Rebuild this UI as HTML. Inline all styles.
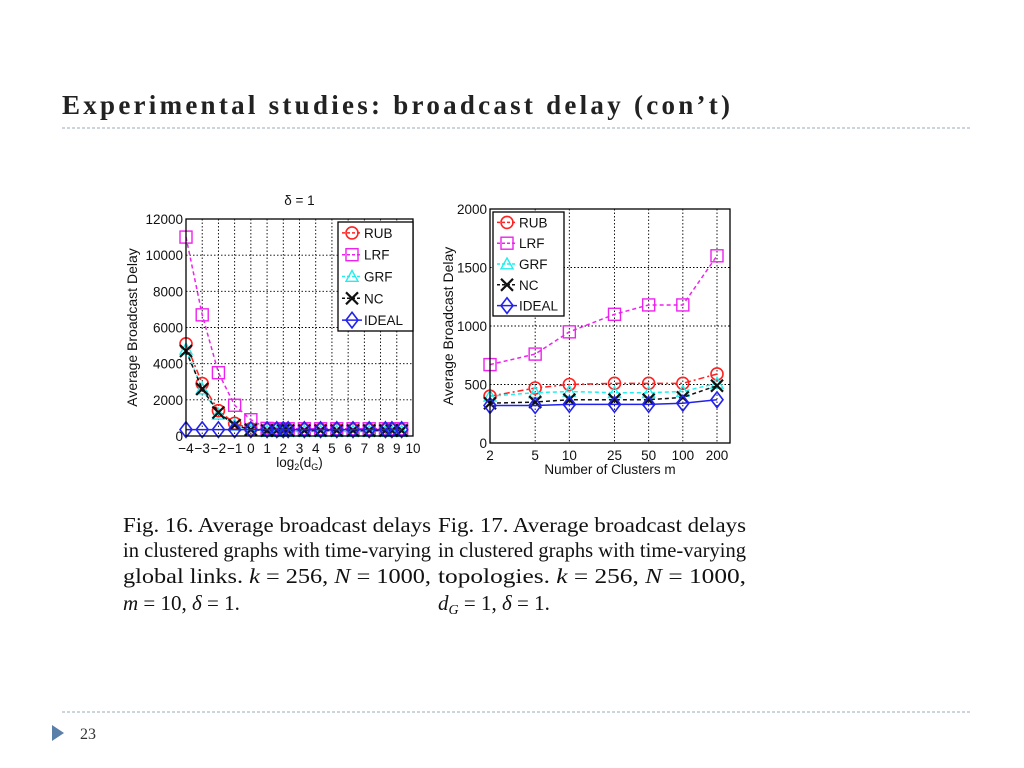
<!DOCTYPE html>
<html><head><meta charset="utf-8"><style>
body{margin:0;background:#fff;}
svg{display:block;font-family:"Liberation Sans",sans-serif;}
.ser{font-family:"Liberation Serif",serif;}
</style></head><body>
<svg id="s" width="1024" height="768" viewBox="0 0 1024 768">
<text class="ser" x="62" y="114" font-size="27" font-weight="bold" fill="#222" textLength="668" lengthAdjust="spacing">Experimental studies: broadcast delay (con’t)</text>
<line x1="62" y1="128" x2="972" y2="128" stroke="#9ab" stroke-dasharray="3,2"/>
<line x1="62" y1="712" x2="972" y2="712" stroke="#9ab" stroke-dasharray="3,2"/>
<polygon points="52,725 52,741 64,733" fill="#5a7fa8"/>
<text class="ser" x="80" y="739" font-size="16" fill="#333">23</text>
<g id="p1"></g>
<g id="p2"></g>
<g class="ser" font-size="21" fill="#111">
<text x="123" y="532" textLength="308" lengthAdjust="spacingAndGlyphs">Fig. 16.    Average broadcast delays</text>
<text x="123" y="557" textLength="308" lengthAdjust="spacingAndGlyphs">in clustered graphs with time-varying</text>
<text x="123" y="583" textLength="308" lengthAdjust="spacingAndGlyphs">global links. <tspan font-style="italic">k</tspan> = 256, <tspan font-style="italic">N</tspan> = 1000,</text>
<text x="123" y="610"><tspan font-style="italic">m</tspan> = 10, <tspan font-style="italic">δ</tspan> = 1.</text>
<text x="438" y="532" textLength="308" lengthAdjust="spacingAndGlyphs">Fig. 17.    Average broadcast delays</text>
<text x="438" y="557" textLength="308" lengthAdjust="spacingAndGlyphs">in clustered graphs with time-varying</text>
<text x="438" y="583" textLength="308" lengthAdjust="spacingAndGlyphs">topologies. <tspan font-style="italic">k</tspan> = 256, <tspan font-style="italic">N</tspan> = 1000,</text>
<text x="438" y="610"><tspan font-style="italic">d<tspan font-size="14" dy="4">G</tspan></tspan><tspan dy="-4"> = 1, </tspan><tspan font-style="italic">δ</tspan> = 1.</text>
</g>
</svg>
<script>
const NS="http://www.w3.org/2000/svg";
// Fig 16 data
const x1Vals=[-4,-3,-2,-1,0,1,1.6,2,2.3,3.3,4.3,5.3,6.3,7.3,8.3,8.7,9.3];
const rub1=[5100,2900,1400,700,400,350,350,350,350,350,350,350,350,350,350,350,350];
const lrf1=[11000,6700,3500,1700,900,420,400,400,400,400,400,400,400,400,400,400,400];
const grf1=[4800,2600,1200,600,300,250,250,250,250,250,250,250,250,250,250,250,250];
const nc1=[4700,2600,1300,600,350,300,300,300,300,300,300,300,300,300,300,300,300];
const ideal1=[350,350,350,350,350,350,350,350,350,350,350,350,350,350,350,350,350];
const y1Ticks=[0,2000,4000,6000,8000,10000,12000];
const x1Ticks=[-4,-3,-2,-1,0,1,2,3,4,5,6,7,8,9,10];
// Fig 17 data
const x2Cats=[2,5,10,25,50,100,200];
const rub2=[400,470,500,510,510,510,590];
const lrf2=[670,760,950,1100,1180,1180,1600];
const grf2=[400,430,440,430,430,440,510];
const nc2=[340,350,370,370,370,390,490];
const ideal2=[320,320,330,330,330,340,370];
const y2Ticks=[0,500,1000,1500,2000];
const legendNames=["RUB","LRF","GRF","NC","IDEAL"];

const styles={RUB:{c:"#f22",d:"6,3,2,3",m:"o"},LRF:{c:"#e2e",d:"4,3",m:"s"},GRF:{c:"#2ee",d:"4,3",m:"t"},NC:{c:"#111",d:"4,3",m:"x"},IDEAL:{c:"#22e",d:"",m:"d"}};
function el(p,t,a){const e=document.createElementNS(NS,t);for(const k in a)e.setAttribute(k,a[k]);p.appendChild(e);return e;}
function marker(g,m,x,y,c,r){
 let e;
 if(m==="o")e=el(g,"circle",{cx:x,cy:y,r:r,fill:"none",stroke:c,"stroke-width":1.6});
 else if(m==="s")e=el(g,"rect",{x:x-r,y:y-r,width:2*r,height:2*r,fill:"none",stroke:c,"stroke-width":1.4});
 else if(m==="t")e=el(g,"polygon",{points:`${x},${y-r} ${x-r},${y+r*0.8} ${x+r},${y+r*0.8}`,fill:"none",stroke:c,"stroke-width":1.4});
 else if(m==="x")e=el(g,"path",{d:`M${x-r} ${y-r}L${x+r} ${y+r}M${x-r} ${y+r}L${x+r} ${y-r}`,stroke:c,"stroke-width":2.2});
 else e=el(g,"polygon",{points:`${x},${y-r*1.3} ${x+r},${y} ${x},${y+r*1.3} ${x-r},${y}`,fill:"none",stroke:c,"stroke-width":1.6});
 return e;
}
function chart(gid,L,R,T,B,xs,series,yt,ymax,xfn,xticks,xlab,ylabx,leg,title){
 const g=document.getElementById(gid);
 const sy=v=>B-(v/ymax)*(B-T);
 const grid=el(g,"g",{});
 
 
 xticks.forEach(t=>{const x=xfn(t.v);el(grid,"line",{x1:x,x2:x,y1:T,y2:B,stroke:"#000","stroke-dasharray":"1.5,2","stroke-width":0.9});
  const tx=el(g,"text",{x:x,y:B+17,"font-size":13.5,"text-anchor":"middle",fill:"#111"});tx.textContent=t.l;
  
  });
 yt.forEach(v=>{const y=sy(v);el(grid,"line",{x1:L,x2:R,y1:y,y2:y,stroke:"#000","stroke-dasharray":"1.5,2","stroke-width":0.9});
  const tx=el(g,"text",{x:L-3,y:y+5,"font-size":13.5,"text-anchor":"end",fill:"#111"});tx.textContent=v;
  
  });
 legendNames.forEach((n,i)=>{
  const s=styles[n];const sg=el(g,"g",{});
  
  
  const vals=series[i];
  el(sg,"polyline",{points:xs.map((x,j)=>xfn(x)+","+sy(vals[j])).join(" "),fill:"none",stroke:s.c,"stroke-width":1.5,"stroke-dasharray":s.d});
  xs.forEach((x,j)=>{const m=marker(sg,s.m,xfn(x),sy(vals[j]),s.c,6);
   
   });
 });
 el(g,"rect",{x:L,y:T,width:R-L,height:B-T,fill:"none",stroke:"#000","stroke-width":1.3});
 const lg=el(g,"g",{});
 
 
 el(lg,"rect",{x:leg[0],y:leg[1],width:leg[2],height:leg[3],fill:"#fff",stroke:"#000","stroke-width":1.3});
 const step=leg[3]/5;
 legendNames.forEach((n,i)=>{const s=styles[n];const y=leg[1]+step*(i+0.5);
  const eg=el(lg,"g",{});
  
  
  el(eg,"line",{x1:leg[0]+4,x2:leg[0]+24,y1:y,y2:y,stroke:s.c,"stroke-width":1.5,"stroke-dasharray":s.d?"3,2":""});
  marker(eg,s.m,leg[0]+14,y,s.c,6);
  const t=el(eg,"text",{x:leg[0]+26,y:y+5,"font-size":13.5,fill:"#111"});t.textContent=n;});
 const xl=el(g,"text",{x:(L+R)/2,y:B+31,"font-size":13.5,"text-anchor":"middle",fill:"#111"});
 xl.innerHTML=xlab;
 
 
 const yl=el(g,"text",{x:0,y:0,"font-size":14,"text-anchor":"middle",fill:"#111",transform:`translate(${ylabx},${(T+B)/2}) rotate(-90)`});
 yl.textContent="Average Broadcast Delay";
 
 
 if(title){const tt=el(g,"text",{x:(L+R)/2,y:T-14,"font-size":13.5,"text-anchor":"middle",fill:"#111"});tt.textContent=title;
  
  }
}
const L1=186,R1=413;
chart("p1",L1,R1,219,436,x1Vals,[rub1,lrf1,grf1,nc1,ideal1],y1Ticks,12000,v=>L1+(v+4)/14*(R1-L1),
 x1Ticks.map(v=>({v:v,l:v<0?"\u2212"+(-v):""+v})),'log<tspan font-size="9" dy="3">2</tspan><tspan dy="-3">(d</tspan><tspan font-size="9" dy="3">G</tspan><tspan dy="-3">)</tspan>',137,[338,222,75,109],"\u03b4 = 1");
const L2=490,R2=730,lmin=Math.log10(2),lmax=Math.log10(2)+(R2-L2)/113.5;
chart("p2",L2,R2,209,443,x2Cats,[rub2,lrf2,grf2,nc2,ideal2],y2Ticks,2000,v=>L2+(Math.log10(v)-lmin)/(lmax-lmin)*(R2-L2),
 x2Cats.map(v=>({v:v,l:""+v})),"Number of Clusters m",453,[493,212,71,104],null);
</script>
</body></html>
